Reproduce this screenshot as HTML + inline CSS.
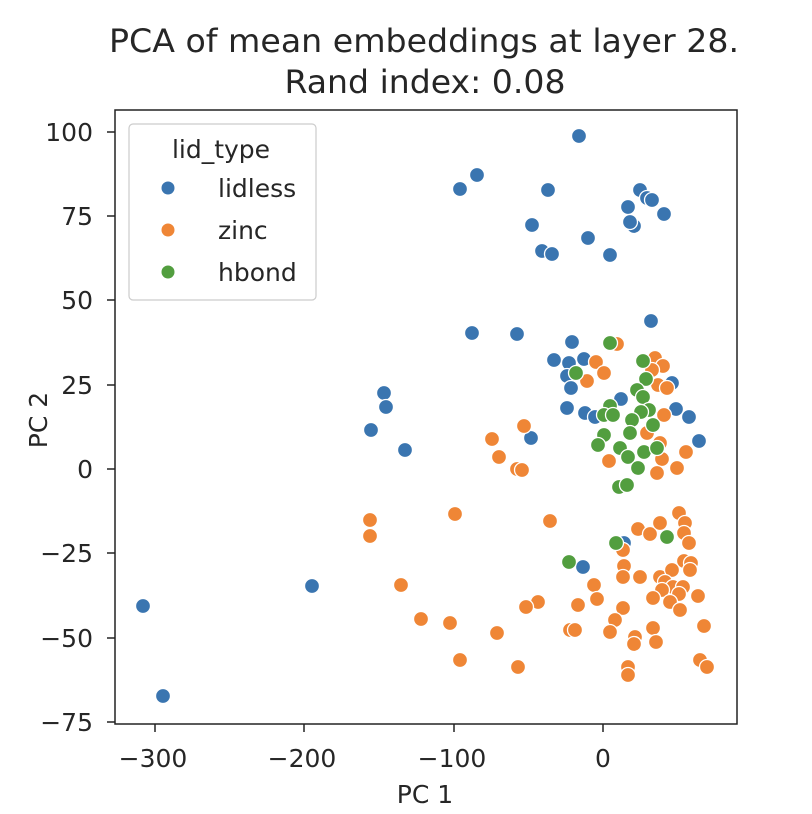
<!DOCTYPE html>
<html><head><meta charset="utf-8"><style>body{margin:0;background:#fff}svg{display:block}text{font-family:"DejaVu Sans","Liberation Sans",sans-serif;fill:#262626}</style></head>
<body>
<svg width="812" height="814" viewBox="0 0 812 814" xmlns="http://www.w3.org/2000/svg">
<rect width="812" height="814" fill="#fff"/>
<text x="424" y="52" font-size="32" text-anchor="middle" textLength="630" lengthAdjust="spacingAndGlyphs">PCA of mean embeddings at layer 28.</text>
<text x="425" y="93" font-size="32" text-anchor="middle" textLength="281" lengthAdjust="spacingAndGlyphs">Rand index: 0.08</text>
<g id="pts" stroke="#fff" stroke-width="1.3">
<g fill="#3a75b0">
<circle cx="517" cy="334" r="7.5"/><circle cx="651" cy="321" r="7.5"/><circle cx="572" cy="342" r="7.5"/><circle cx="554" cy="360" r="7.5"/><circle cx="569" cy="363" r="7.5"/><circle cx="584" cy="359" r="7.5"/><circle cx="567" cy="376" r="7.5"/><circle cx="571" cy="388" r="7.5"/><circle cx="567" cy="408" r="7.5"/><circle cx="585" cy="413" r="7.5"/><circle cx="595" cy="417" r="7.5"/><circle cx="621" cy="399" r="7.5"/><circle cx="672" cy="383" r="7.5"/><circle cx="676" cy="409" r="7.5"/><circle cx="689" cy="417" r="7.5"/><circle cx="699" cy="441" r="7.5"/><circle cx="531" cy="438" r="7.5"/>
<circle cx="624" cy="543" r="7.5"/><circle cx="583" cy="567" r="7.5"/>
<circle cx="579" cy="136" r="7.5"/><circle cx="477" cy="175" r="7.5"/><circle cx="460" cy="189" r="7.5"/><circle cx="548" cy="190" r="7.5"/><circle cx="532" cy="225" r="7.5"/><circle cx="588" cy="238" r="7.5"/><circle cx="628" cy="207" r="7.5"/><circle cx="634" cy="226" r="7.5"/><circle cx="542" cy="251" r="7.5"/><circle cx="552" cy="254" r="7.5"/><circle cx="610" cy="255" r="7.5"/><circle cx="640" cy="190" r="7.5"/><circle cx="647" cy="198" r="7.5"/><circle cx="652" cy="200" r="7.5"/><circle cx="664" cy="214" r="7.5"/><circle cx="630" cy="222" r="7.5"/>
<circle cx="472" cy="333" r="7.5"/><circle cx="384" cy="393" r="7.5"/><circle cx="386" cy="407" r="7.5"/><circle cx="371" cy="430" r="7.5"/><circle cx="405" cy="450" r="7.5"/><circle cx="312" cy="586" r="7.5"/><circle cx="143" cy="606" r="7.5"/><circle cx="163" cy="696" r="7.5"/>
</g>
<g fill="#ef8636">
<circle cx="617" cy="344" r="7.5"/><circle cx="596" cy="362" r="7.5"/><circle cx="604" cy="373" r="7.5"/><circle cx="587" cy="381" r="7.5"/><circle cx="655" cy="358" r="7.5"/><circle cx="663" cy="366" r="7.5"/><circle cx="652" cy="370" r="7.5"/><circle cx="658" cy="385" r="7.5"/><circle cx="667" cy="388" r="7.5"/><circle cx="664" cy="415" r="7.5"/><circle cx="647" cy="433" r="7.5"/><circle cx="660" cy="443" r="7.5"/><circle cx="662" cy="459" r="7.5"/><circle cx="686" cy="452" r="7.5"/><circle cx="677" cy="468" r="7.5"/><circle cx="657" cy="473" r="7.5"/><circle cx="609" cy="461" r="7.5"/><circle cx="524" cy="426" r="7.5"/><circle cx="492" cy="439" r="7.5"/><circle cx="499" cy="457" r="7.5"/><circle cx="517" cy="469" r="7.5"/><circle cx="522" cy="470" r="7.5"/>
<circle cx="679" cy="513" r="7.5"/><circle cx="685" cy="523" r="7.5"/><circle cx="550" cy="521" r="7.5"/><circle cx="638" cy="529" r="7.5"/><circle cx="650" cy="534" r="7.5"/><circle cx="660" cy="523" r="7.5"/><circle cx="684" cy="533" r="7.5"/><circle cx="689" cy="543" r="7.5"/><circle cx="623" cy="550" r="7.5"/><circle cx="684" cy="561" r="7.5"/><circle cx="691" cy="563" r="7.5"/><circle cx="690" cy="570" r="7.5"/><circle cx="624" cy="566" r="7.5"/><circle cx="623" cy="577" r="7.5"/><circle cx="640" cy="577" r="7.5"/><circle cx="660" cy="577" r="7.5"/><circle cx="672" cy="570" r="7.5"/><circle cx="665" cy="582" r="7.5"/><circle cx="673" cy="587" r="7.5"/><circle cx="662" cy="590" r="7.5"/><circle cx="683" cy="587" r="7.5"/><circle cx="679" cy="594" r="7.5"/><circle cx="698" cy="596" r="7.5"/><circle cx="653" cy="598" r="7.5"/><circle cx="670" cy="602" r="7.5"/><circle cx="680" cy="610" r="7.5"/><circle cx="594" cy="585" r="7.5"/><circle cx="597" cy="599" r="7.5"/><circle cx="578" cy="605" r="7.5"/><circle cx="538" cy="602" r="7.5"/><circle cx="526" cy="607" r="7.5"/><circle cx="623" cy="608" r="7.5"/><circle cx="615" cy="620" r="7.5"/><circle cx="610" cy="632" r="7.5"/><circle cx="653" cy="628" r="7.5"/><circle cx="635" cy="637" r="7.5"/><circle cx="634" cy="644" r="7.5"/><circle cx="656" cy="642" r="7.5"/><circle cx="570" cy="630" r="7.5"/><circle cx="575" cy="630" r="7.5"/><circle cx="497" cy="633" r="7.5"/><circle cx="704" cy="626" r="7.5"/><circle cx="700" cy="660" r="7.5"/><circle cx="707" cy="667" r="7.5"/><circle cx="628" cy="667" r="7.5"/><circle cx="628" cy="675" r="7.5"/><circle cx="518" cy="667" r="7.5"/>
<circle cx="370" cy="520" r="7.5"/><circle cx="370" cy="536" r="7.5"/><circle cx="401" cy="585" r="7.5"/><circle cx="421" cy="619" r="7.5"/><circle cx="455" cy="514" r="7.5"/><circle cx="450" cy="623" r="7.5"/><circle cx="460" cy="660" r="7.5"/>
</g>
<g fill="#529e3f">
<circle cx="610" cy="343" r="7.5"/><circle cx="643" cy="361" r="7.5"/><circle cx="576" cy="373" r="7.5"/><circle cx="646" cy="379" r="7.5"/><circle cx="637" cy="390" r="7.5"/><circle cx="643" cy="397" r="7.5"/><circle cx="610" cy="406" r="7.5"/><circle cx="604" cy="415" r="7.5"/><circle cx="613" cy="415" r="7.5"/><circle cx="649" cy="410" r="7.5"/><circle cx="641" cy="412" r="7.5"/><circle cx="632" cy="420" r="7.5"/><circle cx="653" cy="425" r="7.5"/><circle cx="630" cy="433" r="7.5"/><circle cx="604" cy="435" r="7.5"/><circle cx="598" cy="445" r="7.5"/><circle cx="620" cy="448" r="7.5"/><circle cx="628" cy="457" r="7.5"/><circle cx="644" cy="452" r="7.5"/><circle cx="657" cy="448" r="7.5"/><circle cx="638" cy="468" r="7.5"/><circle cx="619" cy="487" r="7.5"/><circle cx="627" cy="485" r="7.5"/>
<circle cx="616" cy="543" r="7.5"/><circle cx="667" cy="537" r="7.5"/><circle cx="569" cy="562" r="7.5"/>
</g>
</g>
<rect x="115" y="110" width="622" height="614" fill="none" stroke="#222" stroke-width="1.5"/>
<g stroke="#222" stroke-width="1.5">
<line x1="155" y1="724" x2="155" y2="732"/><line x1="304" y1="724" x2="304" y2="732"/><line x1="454" y1="724" x2="454" y2="732"/><line x1="603" y1="724" x2="603" y2="732"/>
<line x1="107" y1="132" x2="115" y2="132"/><line x1="107" y1="216" x2="115" y2="216"/><line x1="107" y1="300" x2="115" y2="300"/><line x1="107" y1="385" x2="115" y2="385"/><line x1="107" y1="469" x2="115" y2="469"/><line x1="107" y1="553" x2="115" y2="553"/><line x1="107" y1="638" x2="115" y2="638"/><line x1="107" y1="722" x2="115" y2="722"/>
</g>
<g font-size="25" text-anchor="middle">
<text x="153" y="767">−300</text><text x="302" y="767">−200</text><text x="452" y="767">−100</text><text x="603" y="767">0</text>
<text x="425" y="803">PC 1</text>
</g>
<g font-size="25" text-anchor="end">
<text x="93" y="141">100</text><text x="93" y="225">75</text><text x="93" y="309">50</text><text x="93" y="394">25</text><text x="93" y="478">0</text><text x="93" y="562">−25</text><text x="93" y="647">−50</text><text x="93" y="731">−75</text>
</g>
<text transform="translate(47,420) rotate(-90)" font-size="25" text-anchor="middle">PC 2</text>
<rect x="129" y="124" width="187" height="176" rx="4" fill="#fff" fill-opacity="0.8" stroke="#ccc" stroke-width="1.2"/>
<text x="221" y="158" font-size="25" text-anchor="middle">lid_type</text>
<circle cx="168" cy="188" r="7" fill="#3a75b0" stroke="#fff"/>
<circle cx="168" cy="230" r="7" fill="#ef8636" stroke="#fff"/>
<circle cx="168" cy="272" r="7" fill="#529e3f" stroke="#fff"/>
<g font-size="25"><text x="218" y="197">lidless</text><text x="218" y="239">zinc</text><text x="218" y="281">hbond</text></g>
</svg>
</body></html>
